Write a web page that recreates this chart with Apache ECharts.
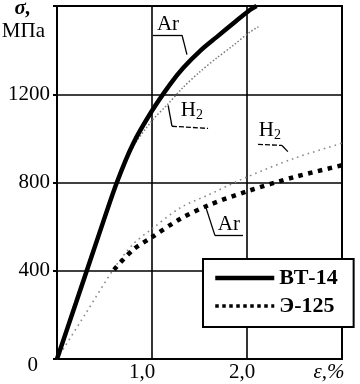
<!DOCTYPE html>
<html><head><meta charset="utf-8">
<script src="https://cdn.jsdelivr.net/npm/echarts@6/dist/echarts.min.js"></script>
<style>html,body{margin:0;padding:0;background:#fff}#c{width:360px;height:384px}</style>
</head><body><div id="c"></div>
<script>
// ---- data ----
const xTickLabels = ['', '1,0', '2,0', 'ε,%'];        // at ε = 0,1,2,3
const yTickLabels = ['0', '400', '800', '1200', ''];   // at σ = 0..1600
const seriesNames = ['ВТ-14', 'ВТ-14 H2', 'Э-125', 'Э-125 H2'];

// ВТ-14 in Ar (thick solid)
const bt14ArEps = [0, 0.2, 0.45, 0.63, 0.8, 1.0, 1.19, 1.33, 1.51, 1.68, 1.86, 2.03, 2.1];
const bt14ArSig = [0, 255, 575, 800, 975, 1125, 1245, 1320, 1398, 1459, 1523, 1582, 1600];
// ВТ-14 in H2 (thin grey dotted)
const bt14H2Eps = [0, 0.45, 0.63, 0.8, 1.0, 1.16, 1.33, 1.5, 1.68, 1.86, 2.03, 2.12];
const bt14H2Sig = [0, 575, 798, 960, 1080, 1152, 1232, 1300, 1364, 1423, 1482, 1505];
// Э-125 in Ar (thick dotted)
const e125ArEps = [0.6, 0.8, 1.0, 1.3, 1.6, 2.0, 2.5, 3.0];
const e125ArSig = [405, 495, 552, 636, 698, 760, 825, 878];
// Э-125 in H2 (light dotted)
const e125H2Eps = [0, 0.3, 0.6, 0.8, 1.0, 1.3, 1.6, 2.0, 2.5, 3.0];
const e125H2Sig = [0, 205, 410, 520, 590, 686, 745, 825, 910, 978];

// annotations (data coordinates)
const noteTexts = ['Ar', 'H2', 'H2', 'Ar'];
const noteAt = [[1.168, 1518], [1.42, 1127], [2.24, 1036], [1.81, 609]];
const leaderSolid = [
  [[1.01, 1468], [1.316, 1468]], [[1.316, 1468], [1.368, 1380]],
  [[1.21, 1055], [1.17, 1150]],
  [[2.368, 968], [2.43, 940]],
  [[1.568, 686], [1.663, 559]], [[1.663, 559], [1.958, 559]]
];
const leaderDashed = [
  [[1.21, 1055], [1.59, 1045]],
  [[2.116, 973], [2.368, 968]]
];

function pairs(a, b) { return a.map((v, i) => [v, b[i]]); }
const SERIF = '"Liberation Serif", "DejaVu Serif", serif';

const chart = echarts.init(document.getElementById('c'), null, { renderer: 'canvas' });

const markPointData = noteTexts.map((t, i) => ({
  coord: noteAt[i],
  symbol: 'rect', symbolSize: 1,
  itemStyle: { color: 'rgba(0,0,0,0)' },
  label: {
    show: true, position: 'inside', color: '#000',
    formatter: t === 'H2' ? '{h|H}{s|2}' : t,
    fontFamily: SERIF, fontSize: 21,
    rich: {
      h: { fontFamily: SERIF, fontSize: 21, color: '#000', lineHeight: 22 },
      s: { fontFamily: SERIF, fontSize: 14, color: '#000', lineHeight: 22, padding: [10, 0, 0, 0] }
    }
  }
}));

const markLineData = [];
leaderSolid.forEach(s => markLineData.push([
  { coord: s[0], lineStyle: { color: '#000', width: 1.3, type: 'solid' } }, { coord: s[1] }]));
leaderDashed.forEach(s => markLineData.push([
  { coord: s[0], lineStyle: { color: '#000', width: 1.3, type: [5, 2] } }, { coord: s[1] }]));

chart.setOption({
  animation: false,
  backgroundColor: '#fff',
  color: ['#000', '#000', '#000', '#000'],
  grid: { left: 57, right: 18, top: 6, bottom: 25, show: true, borderColor: '#000', borderWidth: 2, outerBoundsMode: 'none' },
  xAxis: {
    type: 'value', min: 0, max: 3, interval: 1,
    axisLine: { show: true, onZero: false, lineStyle: { color: '#000', width: 2 } },
    axisTick: { show: false },
    splitLine: { show: true, lineStyle: { color: '#000', width: 1.6 } },
    axisLabel: {
      margin: 3, color: '#000', fontFamily: SERIF, fontSize: 21,
      formatter: v => {
        const t = xTickLabels[Math.round(v)];
        if (!t) return '';
        if (v === 1) return '{a|' + t + '}';
        if (v === 2) return '{b|' + t + '}';
        return '{e|' + t + '}';
      },
      rich: {
        a: { fontFamily: SERIF, fontSize: 21, color: '#000', padding: [0, 20, 0, 0] },
        b: { fontFamily: SERIF, fontSize: 21, color: '#000', padding: [0, 10, 0, 0] },
        e: { fontFamily: SERIF, fontSize: 21, color: '#000', fontStyle: 'italic', padding: [0, 26, 0, 0] }
      }
    }
  },
  yAxis: {
    type: 'value', min: 0, max: 1600, interval: 400,
    name: '{s|σ,}\n{u|МПа}', nameLocation: 'end', nameGap: 6,
    nameTextStyle: {
      align: 'right', verticalAlign: 'top', padding: [0, 12, 0, 0],
      rich: {
        s: { fontFamily: SERIF, fontSize: 21, fontWeight: 'bold', fontStyle: 'italic', color: '#000', lineHeight: 18, padding: [0, 14, 0, 0] },
        u: { fontFamily: SERIF, fontSize: 21, color: '#000', lineHeight: 26 }
      }
    },
    axisLine: { show: true, lineStyle: { color: '#000', width: 2 } },
    axisTick: { show: true, length: 4, lineStyle: { color: '#000', width: 2 } },
    splitLine: { show: true, lineStyle: { color: '#000', width: 1.6 } },
    axisLabel: {
      margin: 7, color: '#000', fontFamily: SERIF, fontSize: 21,
      formatter: v => {
        const t = yTickLabels[Math.round(v / 400)];
        if (v === 0) return '{z|' + t + '}';
        return t;
      },
      rich: { z: { fontFamily: SERIF, fontSize: 21, color: '#000', padding: [12, 12, 0, 0] } }
    }
  },
  legend: {
    data: [
      { name: seriesNames[0], lineStyle: { width: 4.5, color: '#000', type: 'solid' } },
      { name: seriesNames[2], lineStyle: { width: 3.5, color: '#000', type: [3.5, 3.5] } }
    ],
    orient: 'vertical', left: 203, top: 259,
    padding: [8, 16, 10, 10], itemGap: 6, itemWidth: 59, itemHeight: 20,
    backgroundColor: '#fff', borderColor: '#000', borderWidth: 2, borderRadius: 0,
    itemStyle: { opacity: 0 },
    textStyle: { fontFamily: SERIF, fontSize: 22, fontWeight: 'bold', color: '#000' },
    selectedMode: false
  },
  series: [
    {
      name: seriesNames[1], type: 'line', data: pairs(bt14H2Eps, bt14H2Sig),
      symbol: 'none', smooth: 0.3, z: 2,
      itemStyle: { color: '#7a7a7a' },
      lineStyle: { color: '#7a7a7a', width: 1.5, type: [1.5, 2] }
    },
    {
      name: seriesNames[3], type: 'line', data: pairs(e125H2Eps, e125H2Sig),
      symbol: 'none', smooth: 0.3, z: 2,
      itemStyle: { color: '#8a8a8a' },
      lineStyle: { color: '#8a8a8a', width: 1.6, type: [1.6, 4] }
    },
    {
      name: seriesNames[2], type: 'line', data: pairs(e125ArEps, e125ArSig),
      symbol: 'none', smooth: 0.3, z: 3,
      itemStyle: { color: '#000' },
      lineStyle: { color: '#000', width: 4.5, type: [4.5, 5.5], cap: 'butt' }
    },
    {
      name: seriesNames[0], type: 'line', data: pairs(bt14ArEps, bt14ArSig),
      symbol: 'none', smooth: 0.3, z: 4,
      itemStyle: { color: '#000' },
      lineStyle: { color: '#000', width: 4.5 },
      markPoint: { silent: true, animation: false, data: markPointData },
      markLine: { silent: true, animation: false, symbol: ['none', 'none'], label: { show: false }, data: markLineData }
    }
  ]
});
</script></body></html>
